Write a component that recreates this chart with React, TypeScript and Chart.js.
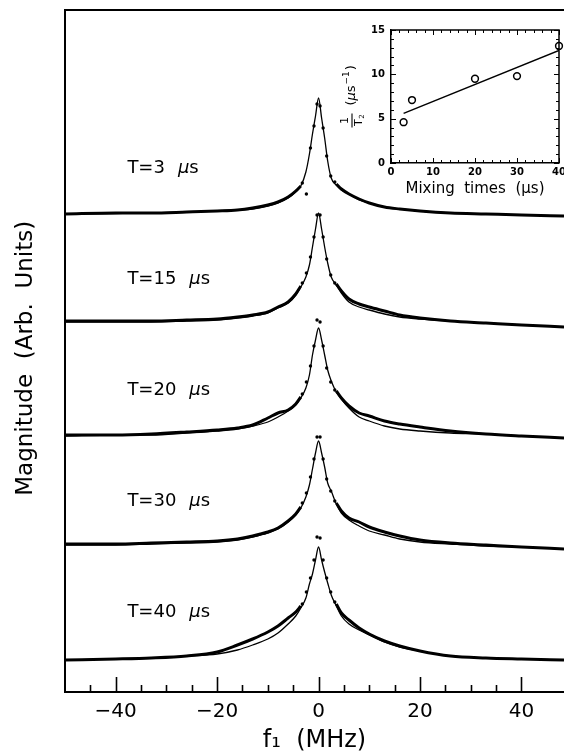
import React, { useEffect, useRef } from 'react';
import { Chart, registerables } from 'chart.js';

Chart.register(...registerables);

// ---------- main panel data ----------
const FREQ = [-50, -40, -33, -26, -20, -16, -13, -10, -8, -6, -4.5, -3.5, -2.5, -1.8, -1.2, -0.6, 0, 0.6, 1.2, 1.8, 2.5, 3.5, 4.5, 6, 8, 10, 13, 16, 20, 26, 33, 40, 48.4];
const DOT_FREQ = [-3.2, -2.4, -1.6, -0.9, -0.3, 0.3, 0.9, 1.6, 2.4, 3.2];

const MIXING_LABELS = ['T=3', 'T=15', 'T=20', 'T=30', 'T=40'];
const OFFSETS = [444, 333, 222, 111, 0];

const FIT_T3 = [2, 2.5, 3, 4, 5, 6, 7, 10, 13, 18, 24, 30, 44, 62, 82, 100, 118, 98, 78, 55, 38, 31, 26, 22, 16, 13, 9, 7, 5, 3, 2, 1, 0];
const FIT_T15 = [5, 5, 5, 6, 7, 9, 11, 14, 19, 24, 32, 40, 50, 62, 80, 98, 114, 98, 80, 64, 50, 42, 34, 25, 20, 17, 13, 10, 8, 6, 4, 2, 0];
const FIT_T20 = [2, 3, 3, 5, 7, 9, 12, 16, 21, 27, 33, 40, 50, 63, 83, 98, 110, 98, 83, 68, 57, 46, 39, 30, 21, 17, 12, 9, 7, 5, 4, 2, 0];
const FIT_T30 = [4, 4, 5, 6, 7, 9, 12, 16, 20, 27, 34, 41, 52, 64, 80, 96, 108, 96, 82, 66, 58, 45, 36, 29, 23, 18, 14, 10, 7, 5, 3, 2, 0];
const FIT_T40 = [0, 1, 2, 4, 6, 10, 15, 21, 27, 36, 44, 52, 62, 76, 86, 100, 113, 100, 88, 77, 65, 54, 44, 36, 30, 25, 18, 13, 9, 4, 2, 1, 0];

const N = null;
const DATA_T3 = [2, 3, 3, 4, 5, 6, 8, 11, 14, 19, 25, 30, N, N, N, N, N, N, N, N, N, 32, 27, 22, 17, 13, 9, 7, 5, 3, 2, 1, 0];
const DATA_T15 = [6, 6, 6, 7, 8, 10, 12, 15, 20, 25, 33, 41, N, N, N, N, N, N, N, N, N, 43, 36, 28, 23, 20, 16, 12, 9, 6, 4, 2, 0];
const DATA_T20 = [3, 3, 4, 6, 8, 10, 13, 20, 25, 28, 34, 41, N, N, N, N, N, N, N, N, N, 47, 40, 32, 25, 22, 17, 14, 11, 7, 4, 2, 0];
const DATA_T30 = [5, 5, 6, 7, 8, 10, 13, 17, 21, 28, 35, 42, N, N, N, N, N, N, N, N, N, 46, 38, 31, 27, 22, 17, 13, 9, 6, 4, 2, 0];
const DATA_T40 = [0, 1, 2, 4, 8, 15, 21, 28, 34, 42, 48, 54, N, N, N, N, N, N, N, N, N, 56, 47, 40, 32, 26, 19, 14, 9, 4, 2, 1, 0];

const DOTS_T3 = [33, 22, 68, 90, 112, 110, 88, 60, 40, 34];
const DOTS_T15 = [44, 54, 70, 90, 112, 112, 90, 68, 52, 44];
const DOTS_T20 = [44, 56, 72, 92, 118, 116, 92, 70, 56, 48];
const DOTS_T30 = [46, 56, 72, 90, 112, 112, 90, 70, 58, 48];
const DOTS_T40 = [56, 68, 82, 100, 123, 122, 100, 82, 68, 58];

const X_LABELED_TICKS = [-40, -20, 0, 20, 40];

// ---------- inset data ----------
const MIX_TIMES = [3, 5, 20, 30, 40];
const INV_T2 = [4.6, 7.1, 9.5, 9.8, 13.2];
const LINE_TIMES = [3, 40];
const LINE_INV_T2 = [5.6, 12.7];
const INSET_X_LABELED = [0, 10, 20, 30, 40];
const INSET_Y_LABELED = [0, 5, 10, 15];

const FITS = [FIT_T3, FIT_T15, FIT_T20, FIT_T30, FIT_T40];
const DATAS = [DATA_T3, DATA_T15, DATA_T20, DATA_T30, DATA_T40];
const DOTS = [DOTS_T3, DOTS_T15, DOTS_T20, DOTS_T30, DOTS_T40];

const FONT = '"DejaVu Sans", sans-serif';
const LABEL_F = -37.7;
const LABEL_H = 48;

const fmt = (v: number) => (v < 0 ? '\u2212' + Math.abs(v) : String(v));

const mainPlugin = {
  id: 'mainDecor',
  afterDraw(chart: any) {
    const { ctx, chartArea, scales } = chart;
    const xs = scales.x;
    const ys = scales.y;
    ctx.save();
    ctx.strokeStyle = '#000';
    ctx.lineWidth = 2;
    ctx.beginPath();
    ctx.moveTo(chartArea.left, chartArea.top);
    ctx.lineTo(chart.width, chartArea.top);
    ctx.stroke();
    ctx.lineWidth = 1.6;
    xs.ticks.forEach((t: any) => {
      const v = t.value;
      if (Math.abs(v - Math.round(v / 5) * 5) > 1e-6) return;
      if (v <= xs.min) return;
      const len = Math.abs(v % 20) < 1e-6 ? 15 : 7;
      const px = Math.round(xs.getPixelForValue(v)) + 0.5;
      ctx.beginPath();
      ctx.moveTo(px, chartArea.bottom);
      ctx.lineTo(px, chartArea.bottom - len);
      ctx.stroke();
    });
    ctx.fillStyle = '#000';
    ctx.textBaseline = 'middle';
    ctx.textAlign = 'left';
    MIXING_LABELS.forEach((txt, i) => {
      let px = xs.getPixelForValue(LABEL_F);
      const py = ys.getPixelForValue(OFFSETS[i] + LABEL_H);
      ctx.font = `18px ${FONT}`;
      ctx.fillText(txt, px, py);
      px += ctx.measureText(txt).width + 13;
      ctx.font = `italic 18px ${FONT}`;
      ctx.fillText('\u03bc', px, py);
      px += ctx.measureText('\u03bc').width;
      ctx.font = `18px ${FONT}`;
      ctx.fillText('s', px, py);
    });
    ctx.restore();
  },
};

const insetPlugin = {
  id: 'insetDecor',
  afterDraw(chart: any) {
    const { ctx, chartArea, scales } = chart;
    const xs = scales.x;
    const ys = scales.y;
    ctx.save();
    ctx.strokeStyle = '#000';
    ctx.lineWidth = 1.5;
    ctx.beginPath();
    ctx.moveTo(chartArea.left, chartArea.top);
    ctx.lineTo(chartArea.right, chartArea.top);
    ctx.lineTo(chartArea.right, chartArea.bottom);
    ctx.stroke();
    ctx.lineWidth = 1;
    xs.ticks.forEach((t: any) => {
      const v = t.value;
      const len = v % 10 === 0 ? 5 : 3;
      const px = Math.round(xs.getPixelForValue(v)) + 0.5;
      ctx.beginPath();
      ctx.moveTo(px, chartArea.bottom);
      ctx.lineTo(px, chartArea.bottom - len);
      ctx.moveTo(px, chartArea.top);
      ctx.lineTo(px, chartArea.top + len);
      ctx.stroke();
    });
    ys.ticks.forEach((t: any) => {
      const v = t.value;
      const len = v % 5 === 0 ? 5 : 3;
      const py = Math.round(ys.getPixelForValue(v)) + 0.5;
      ctx.beginPath();
      ctx.moveTo(chartArea.left, py);
      ctx.lineTo(chartArea.left + len, py);
      ctx.moveTo(chartArea.right, py);
      ctx.lineTo(chartArea.right - len, py);
      ctx.stroke();
    });
    ctx.fillStyle = '#000';
    ctx.translate(22, ys.getPixelForValue(7.6));
    ctx.rotate(-Math.PI / 2);
    ctx.textBaseline = 'middle';
    ctx.textAlign = 'center';
    ctx.font = `11px ${FONT}`;
    ctx.fillText('1', -25, -7);
    ctx.lineWidth = 1.1;
    ctx.beginPath();
    ctx.moveTo(-32, 0);
    ctx.lineTo(-18, 0);
    ctx.stroke();
    ctx.fillText('T', -27, 7);
    ctx.font = `7px ${FONT}`;
    ctx.fillText('2', -21, 10);
    ctx.textAlign = 'left';
    let rx = -10;
    ctx.font = `13px ${FONT}`;
    ctx.fillText('(', rx, 0);
    rx += ctx.measureText('(').width;
    ctx.font = `italic 13px ${FONT}`;
    ctx.fillText('\u03bc', rx, 0);
    rx += ctx.measureText('\u03bc').width;
    ctx.font = `13px ${FONT}`;
    ctx.fillText('s', rx, 0);
    rx += ctx.measureText('s').width + 1;
    ctx.font = `9px ${FONT}`;
    ctx.fillText('\u22121', rx, -5);
    rx += ctx.measureText('\u22121').width + 1;
    ctx.font = `13px ${FONT}`;
    ctx.fillText(')', rx, 0);
    ctx.restore();
  },
};

function buildMainDatasets() {
  const ds: any[] = [];
  OFFSETS.forEach((off, i) => {
    ds.push({
      label: MIXING_LABELS[i] + ' data',
      data: FREQ.map((f, k) => ({ x: f, y: DATAS[i][k] === null ? null : (DATAS[i][k] as number) + off })),
      borderColor: '#000',
      borderWidth: 3,
      pointRadius: 0,
      cubicInterpolationMode: 'monotone',
      spanGaps: false,
      fill: false,
    });
    ds.push({
      label: MIXING_LABELS[i] + ' fit',
      data: FREQ.map((f, k) => ({ x: f, y: FITS[i][k] + off })),
      borderColor: '#000',
      borderWidth: 1.3,
      pointRadius: 0,
      cubicInterpolationMode: 'monotone',
      fill: false,
    });
    ds.push({
      label: MIXING_LABELS[i] + ' points',
      data: DOT_FREQ.map((f, k) => ({ x: f, y: DOTS[i][k] + off })),
      showLine: false,
      pointRadius: 1.7,
      pointBackgroundColor: '#000',
      pointBorderWidth: 0,
    });
  });
  return ds;
}

const noSidePadding = (s: any) => {
  s.paddingLeft = 0;
  s.paddingRight = 0;
};

export default function App() {
  const mainRef = useRef<HTMLCanvasElement>(null);
  const insetRef = useRef<HTMLCanvasElement>(null);

  useEffect(() => {
    const main = new Chart(mainRef.current as HTMLCanvasElement, {
      type: 'line',
      data: { datasets: buildMainDatasets() },
      options: {
        responsive: false,
        animation: false,
        events: [],
        layout: { padding: { top: 10, right: 0, left: 0, bottom: 0 } },
        plugins: { legend: { display: false }, tooltip: { enabled: false } },
        scales: {
          x: {
            type: 'linear',
            min: -50,
            max: 48.4,
            grid: { display: false, drawTicks: false },
            border: { display: true, color: '#000', width: 2 },
            ticks: {
              stepSize: 5,
              autoSkip: false,
              maxRotation: 0,
              minRotation: 0,
              color: '#000',
              padding: 8,
              font: { family: FONT, size: 20 },
              callback: (v: any) => (X_LABELED_TICKS.includes(Number(v)) ? fmt(Number(v)) : ''),
            },
            title: {
              display: true,
              text: 'f\u2081  (MHz)',
              color: '#000',
              font: { family: FONT, size: 24 },
              padding: { top: 0, bottom: 0 },
            },
            afterFit: (s: any) => {
              s.height = 63;
              noSidePadding(s);
            },
          },
          y: {
            type: 'linear',
            min: -32,
            max: 650,
            grid: { display: false, drawTicks: false },
            border: { display: true, color: '#000', width: 2 },
            ticks: { display: false },
            title: {
              display: true,
              text: 'Magnitude  (Arb.  Units)  ',
              color: '#000',
              font: { family: FONT, size: 23 },
              padding: { top: 12, bottom: 0 },
            },
            afterFit: (s: any) => {
              s.width = 65;
              s.paddingTop = 0;
              s.paddingBottom = 0;
            },
          },
        },
      } as any,
      plugins: [mainPlugin],
    });

    const inset = new Chart(insetRef.current as HTMLCanvasElement, {
      type: 'line',
      data: {
        datasets: [
          {
            label: 'linear fit',
            data: LINE_TIMES.map((t, k) => ({ x: t, y: LINE_INV_T2[k] })),
            borderColor: '#000',
            borderWidth: 1.5,
            pointRadius: 0,
            fill: false,
          },
          {
            label: '1/T2',
            data: MIX_TIMES.map((t, k) => ({ x: t, y: INV_T2[k] })),
            showLine: false,
            pointRadius: 3.4,
            pointBorderWidth: 1.5,
            pointBorderColor: '#000',
            pointBackgroundColor: '#fff',
            clip: false,
          } as any,
        ],
      },
      options: {
        responsive: false,
        animation: false,
        events: [],
        layout: { padding: { top: 10, right: 11, left: 0, bottom: 0 } },
        plugins: { legend: { display: false }, tooltip: { enabled: false } },
        scales: {
          x: {
            type: 'linear',
            min: 0,
            max: 40,
            grid: { display: false, drawTicks: false },
            border: { display: true, color: '#000', width: 1.5 },
            ticks: {
              stepSize: 2,
              autoSkip: false,
              maxRotation: 0,
              color: '#000',
              padding: 3,
              font: { family: FONT, size: 10, weight: 'bold' },
              callback: (v: any) => (INSET_X_LABELED.includes(Number(v)) ? String(v) : ''),
            },
            title: {
              display: true,
              text: 'Mixing  times  (\u03bcs)',
              color: '#000',
              font: { family: FONT, size: 15 },
              padding: { top: 0, bottom: 7 },
            },
            afterFit: (s: any) => {
              s.height = 42;
              noSidePadding(s);
            },
          },
          y: {
            type: 'linear',
            min: 0,
            max: 15,
            grid: { display: false, drawTicks: false },
            border: { display: true, color: '#000', width: 1.5 },
            ticks: {
              stepSize: 1,
              autoSkip: false,
              color: '#000',
              padding: 6,
              font: { family: FONT, size: 10, weight: 'bold' },
              callback: (v: any) => (INSET_Y_LABELED.includes(Number(v)) ? String(v) : ''),
            },
            afterFit: (s: any) => {
              s.width = 61;
              s.paddingTop = 0;
              s.paddingBottom = 0;
            },
          },
        },
      } as any,
      plugins: [insetPlugin],
    });

    return () => {
      main.destroy();
      inset.destroy();
    };
  }, []);

  return (
    <div style={{ position: 'fixed', left: 0, top: 0, width: 564, height: 755, background: '#fff', overflow: 'hidden' }}>
      <canvas ref={mainRef} width={568} height={755} style={{ position: 'absolute', left: 0, top: 0, width: 568, height: 755 }} />
      <canvas ref={insetRef} width={240} height={185} style={{ position: 'absolute', left: 330, top: 20, width: 240, height: 185 }} />
    </div>
  );
}
